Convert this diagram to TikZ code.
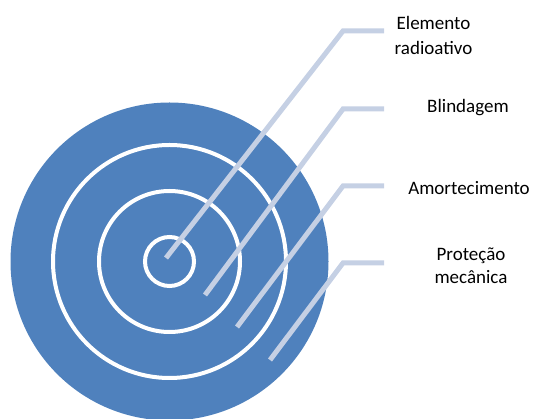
\documentclass[tikz,border=0pt]{standalone}
\usepackage{fontspec}
\setmainfont{Carlito}
\definecolor{discblue}{RGB}{79,129,189}
\definecolor{leader}{RGB}{197,208,228}
\begin{document}
\begin{tikzpicture}[x=1pt,y=-1pt,
  ring/.style={circle,draw=white,line width=4pt,inner sep=0pt,minimum size=#1},
  lead/.style={draw=leader,line width=5pt},
  lbl/.style={font=\fontsize{19}{23}\selectfont,align=center,inner sep=0pt,text=black}]
\useasboundingbox (0,0) rectangle (533,419);
\node[circle,fill=discblue,inner sep=0pt,minimum size=318pt] (disc) at (169.5,261.5) {};
\node[ring=233pt] (r1) at (169.5,261.5) {};
\node[ring=141pt] (r2) at (169.5,261.5) {};
\node[ring=49pt] (r3) at (169.5,261.5) {};
% leader lines
\coordinate (a0) at (166,258); \coordinate (a1) at (343,31); \coordinate (a2) at (384,31);
\coordinate (b0) at (205,295); \coordinate (b1) at (343,109); \coordinate (b2) at (384,109);
\coordinate (c0) at (237,327); \coordinate (c1) at (343,186); \coordinate (c2) at (384,186);
\coordinate (d0) at (270,360); \coordinate (d1) at (343,263); \coordinate (d2) at (384,263);
\draw[lead] (a0) -- (a1) -- (a2);
\draw[lead] (b0) -- (b1) -- (b2);
\draw[lead] (c0) -- (c1) -- (c2);
\draw[lead] (d0) -- (d1) -- (d2);
\node[lbl] (t1) at (433.5,35) {Elemento\\[2pt]radioativo};
\node[lbl] (t2) at (468,108) {Blindagem};
\node[lbl] (t3) at (469,188) {Amortecimento};
\node[lbl] (t4) at (471,266) {Proteção\\mecânica};
\end{tikzpicture}
\end{document}
